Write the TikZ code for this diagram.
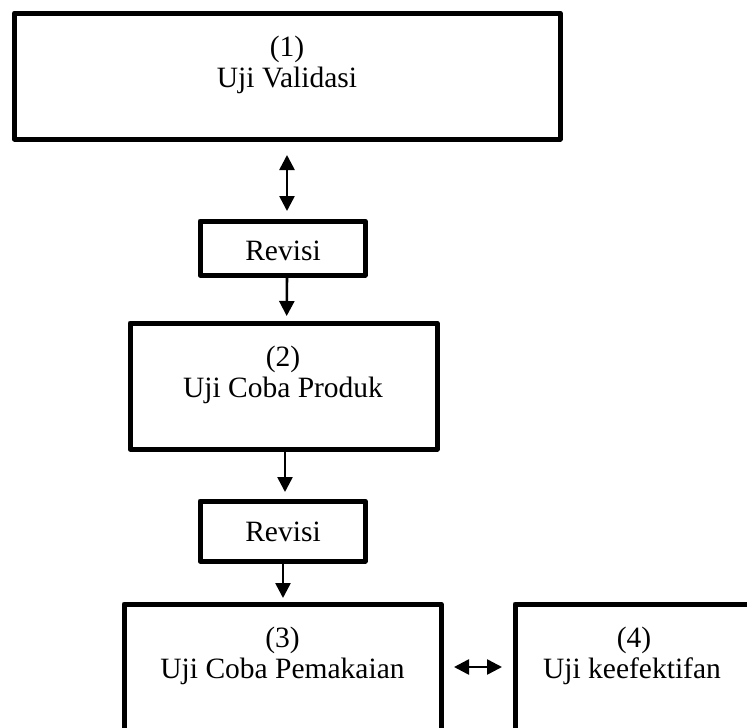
\documentclass[tikz,border=0pt]{standalone}
\usepackage{fontspec}
\setmainfont{Liberation Serif}
\usetikzlibrary{arrows.meta}
\begin{document}
\begin{tikzpicture}[x=1pt,y=1pt,
  boxnode/.style={draw=black,line width=5pt,line join=round,inner sep=0pt,outer sep=0pt,rectangle},
  txt/.style={inner sep=0pt,outer sep=0pt,anchor=base,font=\fontsize{29.5}{32}\selectfont},
  onearrow/.style={line width=2.6pt,-{Triangle[width=15pt,length=15pt]}},
  twoarrow/.style={line width=2.6pt,{Triangle[width=15pt,length=15pt]}-{Triangle[width=15pt,length=15pt]}}]
\useasboundingbox (0,0) rectangle (747,-728);
\clip (0,0) rectangle (747,-728);
% boxes
\node[boxnode,minimum width=545.5pt,minimum height=126pt] (b1) at (287.25,-76) {};
\node[boxnode,minimum width=165pt,minimum height=54pt] (r1) at (282.5,-248) {};
\node[boxnode,minimum width=307pt,minimum height=126pt] (b2) at (283.5,-386) {};
\node[boxnode,minimum width=165pt,minimum height=60pt] (r2) at (282.5,-531) {};
\node[boxnode,minimum width=317pt,minimum height=176pt] (b3) at (282.5,-692) {};
\node[boxnode,minimum width=285pt,minimum height=176pt] (b4) at (657.5,-692) {};
% texts
\node[txt] (t1a) at (287,-56) {(1)};
\node[txt] (t1b) at (287,-87) {Uji Validasi};
\node[txt] (tr1) at (283,-260) {Revisi};
\node[txt] (t2a) at (283,-366) {(2)};
\node[txt] (t2b) at (283,-397) {Uji Coba Produk};
\node[txt] (tr2) at (283,-541) {Revisi};
\node[txt] (t3a) at (282.5,-647) {(3)};
\node[txt] (t3b) at (282.5,-678) {Uji Coba Pemakaian};
\node[txt] (t4a) at (634,-647) {(4)};
\node[txt] (t4b) at (632,-678) {Uji keefektifan};
% connectors
\draw[twoarrow] ([xshift=-0.25pt,yshift=-16pt]b1.south) -- ([xshift=4.5pt,yshift=10pt]r1.north);
\draw[onearrow] ([xshift=4.5pt]r1.south) -- ([xshift=3.2pt,yshift=7pt]b2.north);
\draw[onearrow] ([xshift=1.5pt,yshift=-3pt]b2.south) -- ([xshift=2.5pt,yshift=9pt]r2.north);
\draw[onearrow] ([xshift=0.5pt]r2.south) -- ([xshift=0.5pt,yshift=6pt]b3.north);
\draw[twoarrow] ([xshift=13pt]b3.east |- 0,-667) -- ([xshift=-13pt]b4.west |- 0,-667);
\end{tikzpicture}
\end{document}
